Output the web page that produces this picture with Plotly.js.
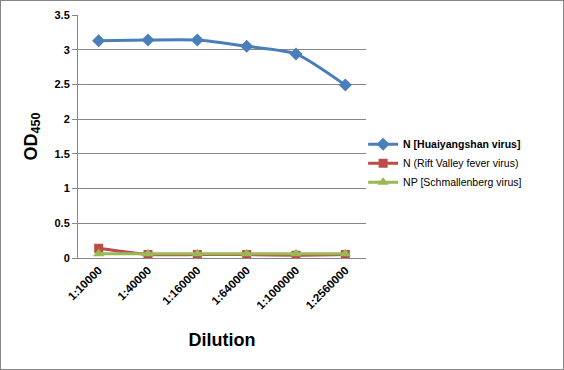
<!DOCTYPE html>
<html><head><meta charset="utf-8">
<script src="https://cdn.plot.ly/plotly-3.0.1.min.js"></script>
<style>body{margin:0;background:#fff}#c{width:562px;height:368px;border:1px solid #868686}</style>
</head><body><div id="c"></div>
<script>
const dilutions = ["1:10000","1:40000","1:160000","1:640000","1:1000000","1:2560000"];
const huaiyangshan = [3.13, 3.14, 3.14, 3.05, 2.94, 2.49];
const riftValley = [0.14, 0.05, 0.05, 0.05, 0.04, 0.05];
const schmallenberg = [0.06, 0.06, 0.06, 0.06, 0.06, 0.06];

const traces = [
  {x: dilutions, y: huaiyangshan, name: "<b>N [Huaiyangshan virus]</b>", mode: "lines+markers",
   line: {color: "#4A7EBB", width: 3, shape: "spline", smoothing: 0.6},
   marker: {symbol: "diamond", size: 10, color: "#4A7EBB"}},
  {x: dilutions, y: riftValley, name: "N (Rift Valley fever virus)", mode: "lines+markers",
   line: {color: "#BE4B48", width: 3, shape: "spline", smoothing: 0.6},
   marker: {symbol: "square", size: 9, color: "#BE4B48"}},
  {x: dilutions, y: schmallenberg, name: "NP [Schmallenberg virus]", mode: "lines+markers",
   line: {color: "#98B954", width: 3, shape: "spline", smoothing: 0.6},
   marker: {symbol: "triangle-up", size: 10, color: "#98B954"}}
];

const layout = {
  width: 562, height: 368,
  margin: {l: 77, r: 197, t: 14, b: 111},
  paper_bgcolor: "#fff", plot_bgcolor: "#fff",
  font: {family: "Liberation Sans, Arial, sans-serif", color: "#000"},
  showlegend: true,
  legend: {x: 0.99, y: 0.39, xanchor: "left", yanchor: "middle",
    font: {size: 10.5}, tracegroupgap: 0, itemwidth: 30, bgcolor: "rgba(0,0,0,0)"},
  xaxis: {type: "category", tickangle: -45, showgrid: false,
    tickfont: {size: 11.5, weight: "bold"},
    showline: true, linecolor: "#868686", ticks: "", zeroline: false,
    title: {text: "<b>Dilution</b>", font: {size: 18}, standoff: 22}},
  yaxis: {range: [0, 3.5], dtick: 0.5, showgrid: true, gridcolor: "#868686",
    showline: true, linecolor: "#868686", ticks: "outside", ticklen: 5, tickcolor: "#868686",
    zeroline: false,
    tickfont: {size: 11, weight: "bold"},
    title: {text: "<b>OD<sub>450</sub></b>", font: {size: 18}, standoff: 12}}
};
Plotly.newPlot("c", traces, layout, {displayModeBar: false, staticPlot: true});
</script></body></html>
